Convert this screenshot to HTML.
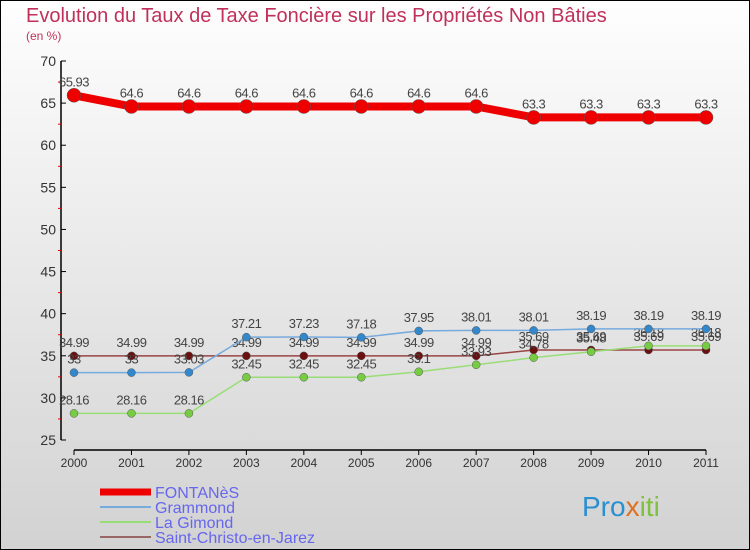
<!DOCTYPE html>
<html><head><meta charset="utf-8"><style>
body{margin:0}
svg{display:block;font-family:"Liberation Sans",sans-serif}
</style></head><body>
<svg width="750" height="550" xmlns="http://www.w3.org/2000/svg">
<defs><linearGradient id="bg" x1="0" y1="0" x2="0" y2="1"><stop offset="0" stop-color="#fefefe"/><stop offset="1" stop-color="#d2d2d2"/></linearGradient></defs>
<rect x="0.5" y="0.5" width="749" height="549" fill="url(#bg)" stroke="#000"/>
<text x="26" y="22" font-size="20" fill="#c0305a" font-weight="300">Evolution du Taux de Taxe Foncière sur les Propriétés Non Bâties</text>
<text x="26" y="40" font-size="12" fill="#c0305a">(en %)</text>
<g id="axes"></g>
<g id="series"></g>
<g id="legend"></g>
<text x="582" y="516" font-size="28" fill="#2a8fd0">Pro<tspan fill="#e07020">x</tspan><tspan fill="#80c040">iti</tspan></text>
</svg>
<script>
const years=[2000,2001,2002,2003,2004,2005,2006,2007,2008,2009,2010,2011];
const yTicks=[25,30,35,40,45,50,55,60,65,70];
const fontanes=[65.93,64.6,64.6,64.6,64.6,64.6,64.6,64.6,63.3,63.3,63.3,63.3];
const grammond=[33,33,33.03,37.21,37.23,37.18,37.95,38.01,38.01,38.19,38.19,38.19];
const gimond=[28.16,28.16,28.16,32.45,32.45,32.45,33.1,33.93,34.78,35.48,36.18,36.18];
const christo=[34.99,34.99,34.99,34.99,34.99,34.99,34.99,34.99,35.69,35.69,35.69,35.69];
const NS="http://www.w3.org/2000/svg";
const X=i=>74+i*(632/11);
const Y=v=>440-(v-25)*(379/45);
function mk(t,a,p){const e=document.createElementNS(NS,t);for(const k in a)e.setAttribute(k,a[k]);p.appendChild(e);return e;}
const ax=document.getElementById('axes');
let yl=mk('line',{x1:61,y1:Y(70),x2:61,y2:Y(25),stroke:'#000','stroke-width':1.5},ax);


yTicks.forEach(v=>{
  mk('line',{x1:61,y1:Y(v),x2:66,y2:Y(v),stroke:'#000'},ax);
  if(v<70)mk('line',{x1:58,y1:Y(v+2.5),x2:61,y2:Y(v+2.5),stroke:'#e00'},ax);
  const t=mk('text',{x:56,y:Y(v)+5,'font-size':14,fill:'#333','text-anchor':'end'},ax);t.textContent=v;
  
  
});
let xl=mk('line',{x1:X(0),y1:450,x2:X(11),y2:450,stroke:'#000','stroke-width':1.5},ax);


years.forEach((y,i)=>{
  mk('line',{x1:X(i),y1:450,x2:X(i),y2:455,stroke:'#000'},ax);
  const t=mk('text',{x:X(i),y:467,'font-size':12,fill:'#333','text-anchor':'middle'},ax);t.textContent=y;
  
  
});
const sg=document.getElementById('series');
const series=[
 {name:'saint-christo',d:christo,c:'#994444',pc:'#6a1010',w:1.5,r:4},
 {name:'la-gimond',d:gimond,c:'#99dd77',pc:'#77cc44',w:1.5,r:4},
 {name:'grammond',d:grammond,c:'#77aadd',pc:'#3388cc',w:1.5,r:4},
 {name:'fontanes',d:fontanes,c:'#ee0000',pc:'#ee0000',w:8,r:7}
];
series.forEach(s=>{
  const g=mk('g',{},sg);
  
  
  const p=mk('polyline',{points:s.d.map((v,i)=>X(i)+','+Y(v)).join(' '),fill:'none',stroke:s.c,'stroke-width':s.w},g);
  
  
  s.d.forEach((v,i)=>{
    const c=mk('circle',{cx:X(i),cy:Y(v),r:s.r,fill:s.pc,stroke:'#555','stroke-width':0.5},g);
    
    
    const t=mk('text',{x:X(i),y:Y(v)-9,'font-size':13,fill:'#444','text-anchor':'middle','letter-spacing':'-0.5'},g);
    t.textContent=String(v);
    
    
  });
});
const lg=document.getElementById('legend');
const items=[['FONTANèS','#ee0000',7],['Grammond','#77aadd',2],['La Gimond','#99dd77',2],['Saint-Christo-en-Jarez','#996666',2]];
items.forEach((it,k)=>{
  const y=492+k*15;
  const l=mk('line',{x1:100,y1:y,x2:151,y2:y,stroke:it[1],'stroke-width':it[2]},lg);
  
  
  const t=mk('text',{x:155,y:y+6,'font-size':16,fill:'#6666ee'},lg);t.textContent=it[0];
  
  
});
</script>
</body></html>
